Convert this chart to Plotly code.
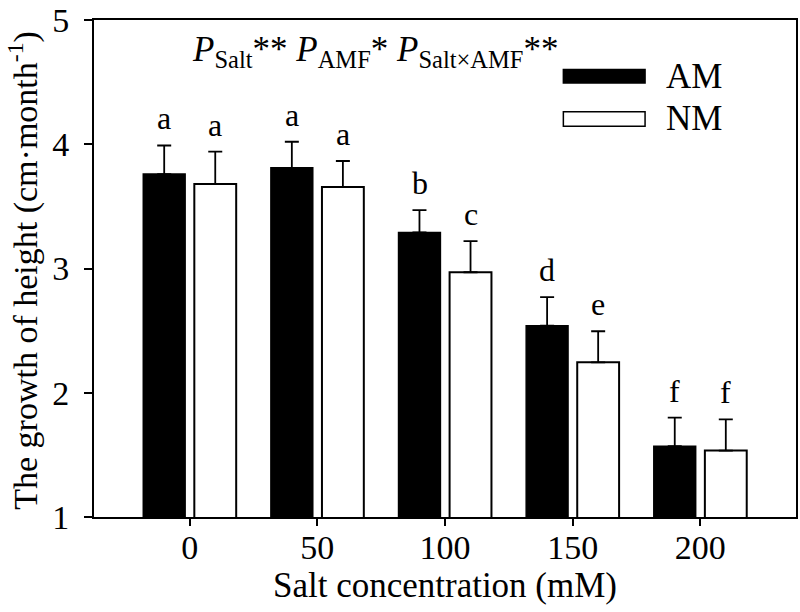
import plotly.graph_objects as go

categories = ["0", "50", "100", "150", "200"]
am_values = [3.76, 3.81, 3.29, 2.54, 1.57]
am_errors = [0.23, 0.21, 0.18, 0.23, 0.23]
nm_values = [3.68, 3.655, 2.97, 2.245, 1.535]
nm_errors = [0.26, 0.21, 0.25, 0.25, 0.25]
am_letters = ["a", "a", "b", "d", "f"]
nm_letters = ["a", "a", "c", "e", "f"]
y_ticks = [1, 2, 3, 4, 5]

FONT = "Liberation Serif"

fig = go.Figure()
fig.add_trace(go.Bar(
    name="AM", x=categories, y=am_values,
    marker=dict(color="black", line=dict(color="black", width=1.5)),
    error_y=dict(type="data", array=am_errors, arrayminus=[0]*len(am_errors),
                 symmetric=False, color="black", thickness=1.8, width=7),
))
fig.add_trace(go.Bar(
    name="NM", x=categories, y=nm_values,
    marker=dict(color="white", line=dict(color="black", width=2)),
    error_y=dict(type="data", array=nm_errors, arrayminus=[0]*len(nm_errors),
                 symmetric=False, color="black", thickness=1.8, width=7),
))

annotations = []
for i, c in enumerate(categories):
    annotations.append(dict(x=i, y=am_values[i] + am_errors[i], xref="x", yref="y",
                            text=am_letters[i], showarrow=False, xshift=-25.5,
                            yanchor="bottom", yshift=7,
                            font=dict(family=FONT, size=32, color="black")))
    annotations.append(dict(x=i, y=nm_values[i] + nm_errors[i], xref="x", yref="y",
                            text=nm_letters[i], showarrow=False, xshift=25.5,
                            yanchor="bottom", yshift=7,
                            font=dict(family=FONT, size=32, color="black")))

annotations.append(dict(
    x=0.4004, y=0.936, xref="paper", yref="paper", showarrow=False,
    xanchor="center", yanchor="middle",
    text="<i>P</i><sub>Salt</sub>** <i>P</i><sub>AMF</sub>* <i>P</i><sub>Salt×AMF</sub>**",
    font=dict(family=FONT, size=35, color="black")))

annotations.append(dict(x=0.812, y=0.887, xref="paper", yref="paper", showarrow=False,
                        xanchor="left", yanchor="middle", text="AM",
                        font=dict(family=FONT, size=35, color="black")))
annotations.append(dict(x=0.812, y=0.8017, xref="paper", yref="paper", showarrow=False,
                        xanchor="left", yanchor="middle", text="NM",
                        font=dict(family=FONT, size=35, color="black")))

# y-axis title
annotations.append(dict(x=-0.1, y=0.497, xref="paper", yref="paper", showarrow=False,
                        xanchor="center", yanchor="middle", textangle=-90,
                        text="The growth of height (cm·month<sup>-1</sup>)",
                        font=dict(family=FONT, size=34, color="black")))

shapes = [
    dict(type="rect", xref="paper", yref="paper", x0=0.6686, x1=0.785, y0=0.873, y1=0.9005,
         fillcolor="black", line=dict(color="black", width=1.5)),
    dict(type="rect", xref="paper", yref="paper", x0=0.6686, x1=0.785, y0=0.786, y1=0.8155,
         fillcolor="white", line=dict(color="black", width=1.5)),
]

fig.update_layout(
    width=800, height=612,
    margin=dict(l=94, r=2, t=13, b=95),
    plot_bgcolor="white", paper_bgcolor="white",
    barmode="group", bargap=0.2, bargroupgap=0.18,
    showlegend=False,
    annotations=annotations, shapes=shapes,
    font=dict(family=FONT, size=34, color="black"),
)
fig.update_xaxes(
    range=[-0.75, 4.75], showline=True, linecolor="black", linewidth=2, mirror=True,
    ticks="outside", ticklen=7, tickwidth=2, tickcolor="black", showgrid=False,
    tickfont=dict(family=FONT, size=34, color="black"), ticklabelstandoff=-8,
    title=dict(text="Salt concentration (mM)", font=dict(family=FONT, size=35, color="black"), standoff=0),
)
fig.update_yaxes(
    range=[1, 5], tickvals=y_ticks, showline=True, linecolor="black", linewidth=2, mirror=True,
    ticks="outside", ticklen=8, tickwidth=2, tickcolor="black", showgrid=False, zeroline=False,
    tickfont=dict(family=FONT, size=34, color="black"), ticklabelstandoff=8,
    ticklabeloverflow="allow",
)

fig.write_html("out.html", config={"displayModeBar": False},
               post_script="document.body.style.margin='0';document.body.style.padding='0';")
